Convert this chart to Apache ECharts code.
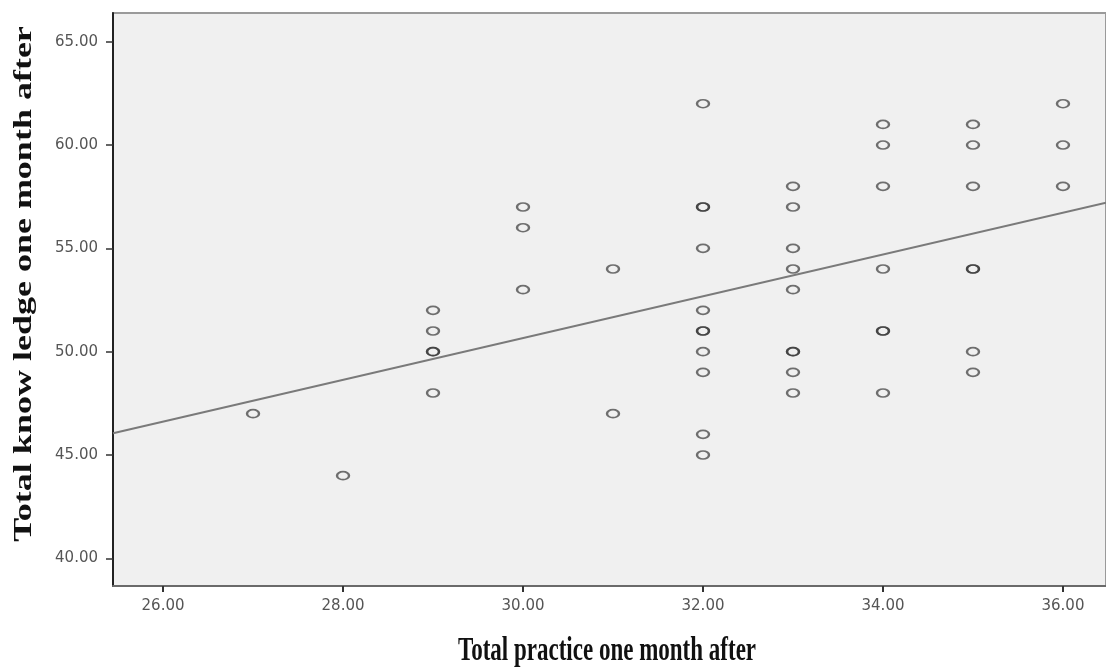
<!DOCTYPE html>
<html>
<head>
<meta charset="utf-8">
<script src="https://cdn.jsdelivr.net/npm/echarts@6/dist/echarts.min.js"></script>
<style>
  html, body { margin: 0; padding: 0; background: #ffffff; }
  #chart { width: 1106px; height: 672px; }
</style>
</head>
<body>
<div id="chart"></div>
<script>
// Practice score (x) and knowledge score (y), one entry per respondent
const practice = [
  27,
  28,
  29, 29, 29, 29, 29,
  30, 30, 30,
  31, 31,
  32, 32, 32, 32, 32, 32, 32, 32, 32, 32, 32,
  33, 33, 33, 33, 33, 33, 33, 33, 33,
  34, 34, 34, 34, 34, 34, 34,
  35, 35, 35, 35, 35, 35, 35,
  36, 36, 36
];
const knowledge = [
  47,
  44,
  52, 51, 50, 50, 48,
  57, 56, 53,
  54, 47,
  62, 57, 57, 55, 52, 51, 51, 50, 49, 46, 45,
  58, 57, 55, 54, 53, 50, 50, 49, 48,
  61, 60, 58, 54, 51, 51, 48,
  61, 60, 58, 54, 54, 50, 49,
  62, 60, 58
];
// Fit line endpoints
const fitLine = [[25.444, 46.05], [36.478, 57.21]];
// Tick values
const xTicks = [26, 28, 30, 32, 34, 36];
const yTicks = [40, 45, 50, 55, 60, 65];
const xTitle = 'Total practice one month after';
const yTitle = 'Total know ledge one month after';

const points = practice.map((x, i) => [x, knowledge[i]]);

const chart = echarts.init(document.getElementById('chart'), null, { renderer: 'canvas' });
const labelStyle = {
  fontFamily: 'DejaVu Sans',
  fontSize: 15,
  color: '#555555',
  formatter: v => Number(v).toFixed(2)
};
chart.setOption({
  animation: false,
  backgroundColor: '#ffffff',
  grid: {
    left: 113, right: 0, top: 13, bottom: 86,
    show: true,
    backgroundColor: '#f0f0f0',
    borderColor: '#9a9a9a',
    borderWidth: 2
  },
  xAxis: {
    type: 'value',
    min: 25.444,
    max: 36.478,
    splitLine: { show: false },
    axisLine: { show: true, onZero: false, lineStyle: { color: '#6a6a6a', width: 2 } },
    axisTick: { show: true, customValues: xTicks, length: 6, lineStyle: { color: '#333', width: 2 } },
    axisLabel: Object.assign({ customValues: xTicks, margin: 13 }, labelStyle)
  },
  yAxis: {
    type: 'value',
    min: 38.66,
    max: 66.39,
    splitLine: { show: false },
    axisLine: { show: true, onZero: false, lineStyle: { color: '#222', width: 2 } },
    axisTick: { show: true, customValues: yTicks, length: 7, lineStyle: { color: '#333', width: 1.5 } },
    axisLabel: Object.assign({ customValues: yTicks, margin: 15 }, labelStyle)
  },
  series: [
    {
      type: 'line',
      data: fitLine,
      symbol: 'none',
      silent: true,
      clip: true,
      lineStyle: { color: '#7a7a7a', width: 2 },
      z: 2
    },
    {
      type: 'scatter',
      data: points,
      symbol: 'circle',
      symbolSize: [12, 8],
      silent: true,
      itemStyle: {
        color: 'rgba(0,0,0,0)',
        borderColor: 'rgba(50,50,50,0.85)',
        borderWidth: 2
      },
      z: 3
    }
  ],
  graphic: [
    {
      type: 'text',
      x: 607,
      y: 651,
      scaleX: 1,
      scaleY: 1.45,
      silent: true,
      style: {
        text: xTitle,
        font: 'bold 23px "Liberation Serif"',
        fill: '#111',
        align: 'center',
        verticalAlign: 'middle',
        textAlign: 'center',
        textVerticalAlign: 'middle'
      }
    },
    {
      type: 'text',
      x: 24,
      y: 284,
      rotation: Math.PI / 2,
      scaleX: 1.5,
      scaleY: 1.05,
      silent: true,
      style: {
        text: yTitle,
        font: 'bold 24px "Liberation Serif"',
        fill: '#111',
        align: 'center',
        verticalAlign: 'middle',
        textAlign: 'center',
        textVerticalAlign: 'middle'
      }
    }
  ]
});
</script>
</body>
</html>
